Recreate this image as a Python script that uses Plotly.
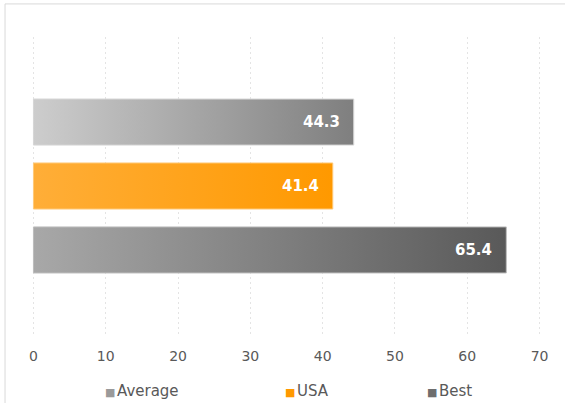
import plotly.graph_objects as go

# Data
categories = ["Average", "USA", "Best"]
values = [44.3, 41.4, 65.4]
x_ticks = [0, 10, 20, 30, 40, 50, 60, 70]

# Styling per series
gradients = [
    [[0, "#cdcdcd"], [1, "#7f7f7f"]],
    [[0, "#ffae38"], [1, "#ff9900"]],
    [[0, "#a8a8a8"], [1, "#595959"]],
]
outline = ["#d6d6d6", "#ffc978", "#bdbdbd"]
legend_swatch = ["#9a9a9a", "#ff9900", "#6e6e6e"]

half = 0.36  # half bar thickness in category units
FONT = "DejaVu Sans"
TEXT_GRAY = "#595959"

fig = go.Figure()

for i, (name, v) in enumerate(zip(categories, values)):
    # gradient-filled horizontal bar from 0 to its value
    fig.add_trace(go.Scatter(
        x=[0, v, v, 0, 0],
        y=[i - half, i - half, i + half, i + half, i - half],
        mode="lines",
        fill="toself",
        fillgradient=dict(type="horizontal", colorscale=gradients[i]),
        line=dict(color=outline[i], width=1),
        hoverinfo="skip",
        name=name,
        showlegend=False,
    ))
    # value label inside the bar end
    fig.add_annotation(
        x=v, y=i, text=f"{v:.1f}", showarrow=False,
        xanchor="right", yanchor="middle", xshift=-12,
        font=dict(family=FONT, size=15, color="white", weight="bold"),
    )

# legend row below the axis: colored square + series name
legend_x = [105, 285, 427]  # left edge of each swatch, pixels
plot_left, plot_w = 32, 509
for name, color, px in zip(categories, legend_swatch, legend_x):
    fig.add_annotation(
        xref="paper", yref="paper",
        x=(px - plot_left - 2) / plot_w, y=-0.188,
        xanchor="left", yanchor="middle", showarrow=False,
        text=(f"<span style='color:{color};font-size:11px'>■</span>"
              f"<span style='font-size:5px'> </span>{name}"),
        font=dict(family=FONT, size=15, color=TEXT_GRAY),
    )

fig.update_layout(
    width=565, height=403,
    margin=dict(l=32, r=24, t=37, b=68),
    paper_bgcolor="white", plot_bgcolor="white",
    showlegend=False,
    xaxis=dict(
        range=[-0.2, 70.2], tickvals=x_ticks, showgrid=True,
        gridcolor="#e4e4e4", griddash="2px,3px", gridwidth=1,
        zeroline=False, showline=False, ticks="",
        ticklabelstandoff=11,
        tickfont=dict(family=FONT, size=14, color=TEXT_GRAY),
        fixedrange=True,
    ),
    yaxis=dict(
        range=[3.33, -1.33], showgrid=False, zeroline=False,
        showticklabels=False, ticks="", fixedrange=True,
    ),
    shapes=[dict(
        type="rect", xref="paper", yref="paper",
        x0=-0.053, x1=1.2, y0=-0.5, y1=1.111,
        line=dict(color="#d9d9d9", width=1), layer="below",
    )],
)

fig.write_html("out.html")
